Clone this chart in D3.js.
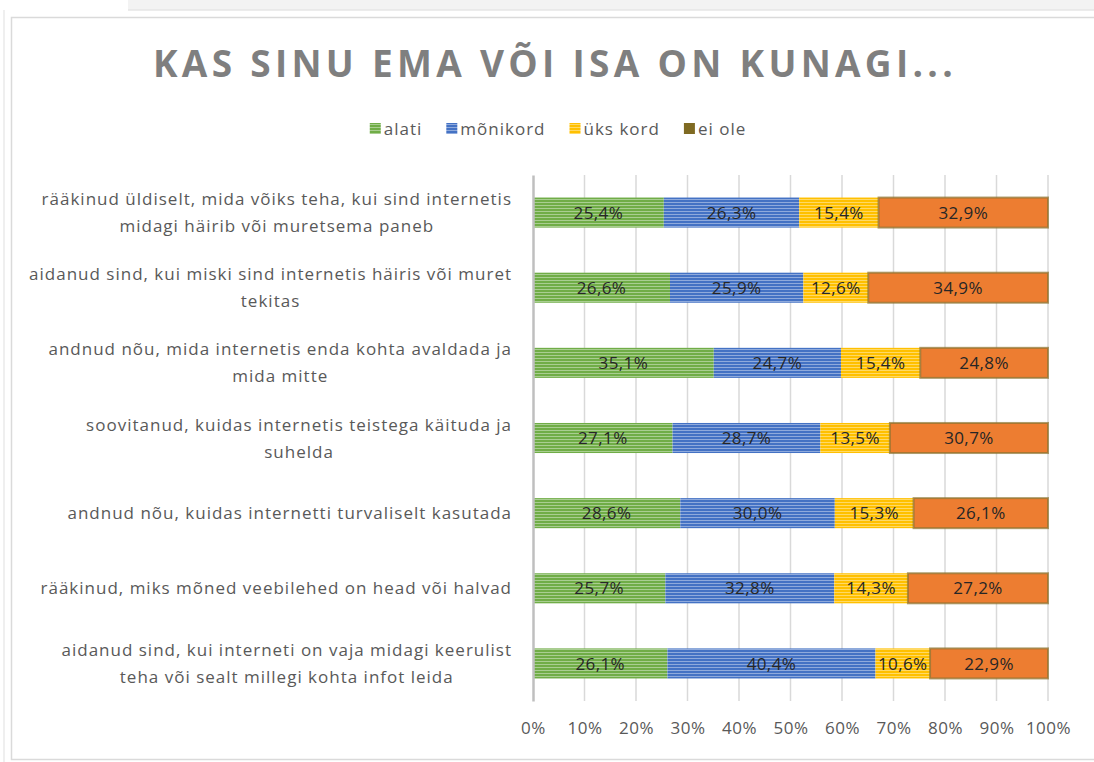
<!DOCTYPE html>
<html lang="et">
<head>
<meta charset="UTF-8">
<title>Kas sinu ema või isa on kunagi...</title>
<script src="https://cdn.jsdelivr.net/npm/d3@7"></script>
<style>
  body { margin: 0; background: #fff; }
  svg { display: block; font-family: "Open Sans", "Noto Sans", sans-serif; }
</style>
</head>
<body>
<div id="chart"></div>
<script>
  var categories = [
    ["rääkinud üldiselt, mida võiks teha, kui sind internetis", "midagi häirib või muretsema paneb"],
    ["aidanud sind, kui miski sind internetis häiris või muret", "tekitas"],
    ["andnud nõu, mida internetis enda kohta avaldada ja", "mida mitte"],
    ["soovitanud, kuidas internetis teistega käituda ja", "suhelda"],
    ["andnud nõu, kuidas internetti turvaliselt kasutada"],
    ["rääkinud, miks mõned veebilehed on head või halvad"],
    ["aidanud sind, kui interneti on vaja midagi keerulist", "teha või sealt millegi kohta infot leida"]
  ];
  var seriesNames = ["alati", "mõnikord", "üks kord", "ei ole"];
  var alati    = [25.4, 26.6, 35.1, 27.1, 28.6, 25.7, 26.1];
  var monikord = [26.3, 25.9, 24.7, 28.7, 30.0, 32.8, 40.4];
  var ukskord  = [15.4, 12.6, 15.4, 13.5, 15.3, 14.3, 10.6];
  var eiole    = [32.9, 34.9, 24.8, 30.7, 26.1, 27.2, 22.9];
  var xTicks = [0, 10, 20, 30, 40, 50, 60, 70, 80, 90, 100];

  var w = 1094, h = 762;
  var colors = ["#70ad47", "#4472c4", "#ffc000", "#ed7d31"];
  var legendColors = ["#70ad47", "#4472c4", "#ffc000", "#7f6a22"];

  var svg = d3.select('#chart').append('svg')
    .attr('width', w).attr('height', h);

  // frame bits around the chart (screenshot edges)
  svg.append('rect').attr('x', 128).attr('y', 0).attr('width', w - 128).attr('height', 10)
    .attr('fill', '#f3f3f3');
  svg.append('line').attr('x1', 128).attr('x2', w).attr('y1', 10).attr('y2', 10)
    .attr('stroke', '#e6e6e6').attr('stroke-width', 1.5);
  svg.append('line').attr('x1', 4).attr('x2', 4).attr('y1', 10).attr('y2', h)
    .attr('stroke', '#efefef').attr('stroke-width', 2);
  svg.append('rect').attr('x', 11.5).attr('y', 17.5).attr('width', w).attr('height', 742)
    .attr('fill', '#fff').attr('stroke', '#dadada').attr('stroke-width', 1.5);

  // stripe patterns
  var defs = svg.append('defs');
  colors.slice(0, 3).forEach(function (c, i) {
    var p = defs.append('pattern').attr('id', 'stripe' + i)
      .attr('patternUnits', 'userSpaceOnUse').attr('width', 6).attr('height', 3);
    p.append('rect').attr('width', 6).attr('height', 3).attr('fill', c);
    p.append('rect').attr('y', 1).attr('width', 6).attr('height', 1).attr('fill', '#fff').attr('opacity', 0.4);
  });

  var plotLeft = 533, plotRight = 1048, plotTop = 175, plotBottom = 701;

  var xScale = d3.scaleLinear().domain([0, 100]).range([plotLeft, plotRight]);
  var yScale = d3.scaleBand()
    .domain(d3.range(categories.length))
    .range([plotTop, plotBottom])
    .paddingInner(0.6)
    .paddingOuter(0.3);

  // title
  svg.append('text')
    .attr('x', 555).attr('y', 77)
    .attr('text-anchor', 'middle')
    .attr('font-size', '37px').attr('font-weight', 'bold')
    .attr('letter-spacing', '4.3px')
    .attr('fill', '#7f7f7f')
    .text('KAS SINU EMA VÕI ISA ON KUNAGI...');

  // legend, laid out by measured text width
  var legend = svg.append('g');
  var lx = 0;
  seriesNames.forEach(function (n, i) {
    legend.append('rect').attr('x', lx).attr('y', 123).attr('width', 11).attr('height', 11)
      .attr('fill', i < 3 ? 'url(#stripe' + i + ')' : legendColors[i]);
    var t = legend.append('text').attr('x', lx + 14).attr('y', 135)
      .attr('font-size', '17px').attr('letter-spacing', '1px')
      .attr('fill', '#595959').text(n);
    lx += 14 + t.node().getComputedTextLength() + 24;
  });
  legend.attr('transform', 'translate(' + (558 - (lx - 24) / 2) + ',0)');

  // gridlines
  svg.append('g').selectAll('line').data(xTicks.slice(1)).enter().append('line')
    .attr('x1', d => xScale(d)).attr('x2', d => xScale(d))
    .attr('y1', plotTop).attr('y2', plotBottom)
    .attr('stroke', '#d9d9d9').attr('stroke-width', 1.5);

  // x axis
  var xAxis = d3.axisBottom(xScale).tickValues(xTicks).tickFormat(d => d + '%').tickSize(0).tickPadding(21);
  var gx = svg.append('g').attr('class', 'x axis')
    .attr('transform', 'translate(0,' + plotBottom + ')')
    .call(xAxis);
  gx.select('.domain').remove();
  gx.selectAll('text').attr('font-size', '17px').attr('fill', '#595959')
    .attr('letter-spacing', '0.5px')
    .attr('font-family', '"Open Sans", sans-serif');

  // stacked data
  var table = categories.map(function (c, i) {
    return { i: i, vals: [alati[i], monikord[i], ukskord[i], eiole[i]] };
  });

  var rows = svg.append('g').selectAll('g').data(table).enter().append('g');
  rows.each(function (d) {
    var g = d3.select(this);
    var acc = 0;
    d.vals.forEach(function (v, k) {
      var x0 = acc, x1 = acc + v;
      acc = x1;
      g.append('rect')
        .attr('x', xScale(x0)).attr('y', yScale(d.i))
        .attr('width', xScale(x1) - xScale(x0))
        .attr('height', yScale.bandwidth())
        .attr('fill', k < 3 ? 'url(#stripe' + k + ')' : colors[3])
        .attr('stroke', k < 3 ? 'none' : '#8a7430')
        .attr('stroke-width', k < 3 ? 0 : 2)
        .attr('stroke-opacity', 0.7);
      g.append('text')
        .attr('x', (xScale(x0) + xScale(x1)) / 2)
        .attr('y', yScale(d.i) + yScale.bandwidth() / 2)
        .attr('dy', '0.36em')
        .attr('text-anchor', 'middle')
        .attr('font-size', '17px').attr('letter-spacing', '0.4px')
        .attr('fill', '#262626')
        .text(v.toFixed(1).replace('.', ',') + '%');
    });
  });

  // y axis with wrapped labels
  var yAxis = d3.axisLeft(yScale).tickSize(0).tickFormat('');
  var gy = svg.append('g').attr('class', 'y axis')
    .attr('transform', 'translate(' + plotLeft + ',0)')
    .call(yAxis);
  gy.select('.domain').attr('stroke', '#bfbfbf').attr('stroke-width', 2.5);

  var labelRight = 512, lineH = 27;
  gy.selectAll('.tick').each(function (i) {
    var lines = categories[i];
    var t = d3.select(this).select('text')
      .attr('font-size', '17px').attr('letter-spacing', '1px')
      .attr('fill', '#595959')
      .attr('font-family', '"Open Sans", sans-serif')
      .attr('text-anchor', 'middle').attr('dy', null);
    var spans = lines.map(function (l, j) {
      return t.append('tspan').attr('y', (j - (lines.length - 1) / 2) * lineH).attr('dy', '0.36em').text(l);
    });
    var maxW = d3.max(spans, s => s.node().getComputedTextLength());
    spans.forEach(function (s) { s.attr('x', labelRight - plotLeft - maxW / 2); });
  });
</script>
</body>
</html>
